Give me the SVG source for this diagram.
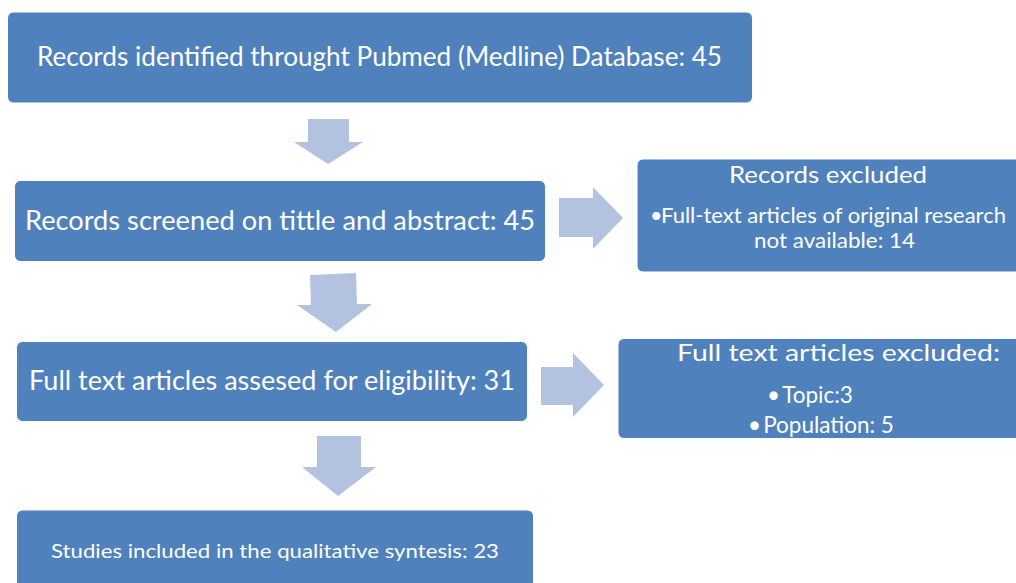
<svg xmlns="http://www.w3.org/2000/svg" width="1016" height="583" viewBox="0 0 1016 583">
<style>
.box{fill:#4F81BD;stroke:#ffffff;stroke-width:1}
.arr{fill:#B3C3DF}
.t{font-family:Lato,"Open Sans","Liberation Sans",sans-serif;fill:#ffffff}
.l{font-size:26px}
.m{font-size:24px}
.b{font-size:21.5px}
.bb{font-size:22.5px}
.s{font-size:20px}
.c{text-anchor:middle}
</style>
<rect width="1016" height="583" fill="#ffffff"/>
<g id="connectors">
<polygon class="arr" points="308,119 349,119 349,142 363,142 328,164 294,142 308,142"/>
<polygon class="arr" points="559,198 593,198 593,187 623,218 593,249 593,237 559,237"/>
<polygon class="arr" points="310,275 356,273 357,304 372,304 336,332 297,305 311,305"/>
<polygon class="arr" points="541,367 573,367 573,353 604,385 573,417 573,405 541,405"/>
<polygon class="arr" points="317,436 361,436 361,467 376,467 338,496 302,467 317,467"/>
</g>
<g id="n1">
<rect class="box" x="7.5" y="12" width="745" height="91" rx="6"/>
<text class="t l" x="37" y="66" textLength="685" lengthAdjust="spacingAndGlyphs">Records identified throught Pubmed (Medline) Database: 45</text>
</g>
<g id="n2">
<rect class="box" x="14.5" y="180.5" width="531" height="81" rx="6"/>
<text class="t l" x="25" y="230" textLength="510" lengthAdjust="spacingAndGlyphs">Records screened on tittle and abstract: 45</text>
</g>
<g id="n3">
<rect class="box" x="637" y="159" width="395" height="113" rx="6"/>
<text class="t m" x="729" y="183" textLength="198" lengthAdjust="spacingAndGlyphs">Records excluded</text>
<text class="t b" x="650" y="223">•</text>
<text class="t b" x="661" y="223" textLength="345" lengthAdjust="spacingAndGlyphs">Full-text articles of original research</text>
<text class="t b" x="754" y="248" textLength="161" lengthAdjust="spacingAndGlyphs">not available: 14</text>
</g>
<g id="n4">
<rect class="box" x="16.5" y="341.5" width="511" height="80" rx="6"/>
<text class="t l" x="29" y="390" textLength="486" lengthAdjust="spacingAndGlyphs">Full text articles assesed for eligibility: 31</text>
</g>
<g id="n5">
<rect class="box" x="618" y="338.5" width="414" height="100" rx="6"/>
<text class="t m" x="677" y="361" textLength="323" lengthAdjust="spacingAndGlyphs">Full text articles excluded:</text>
<text class="t bb c" x="810" y="403">•<tspan dx="2">Topic:3</tspan></text>
<text class="t bb c" x="821" y="433">•<tspan dx="2">Population: 5</tspan></text>
</g>
<g id="n6">
<rect class="box" x="16.5" y="510" width="517" height="90" rx="6"/>
<text class="t s" x="51" y="558" textLength="448" lengthAdjust="spacingAndGlyphs">Studies included in the qualitative syntesis: 23</text>
</g>
</svg>
